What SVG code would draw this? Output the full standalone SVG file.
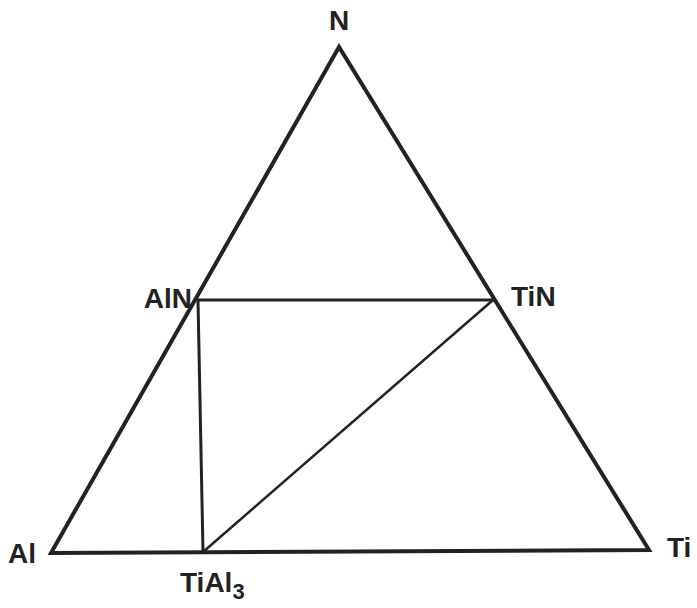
<svg xmlns="http://www.w3.org/2000/svg" width="697" height="608" viewBox="0 0 697 608">
<style>
.lbl{font-family:"Liberation Sans",Arial,sans-serif;font-size:28px;font-weight:bold;fill:#222}
.edge{stroke:#222;fill:none;stroke-linejoin:miter;stroke-linecap:round}
</style>
<rect width="697" height="608" fill="#fff"/>
<g id="connectors">
<polygon class="edge" stroke-width="4" points="339,47 51,553 649,550"/>
<line class="edge" stroke-width="3" x1="198" y1="300" x2="493" y2="300"/>
<line class="edge" stroke-width="3" x1="198" y1="300" x2="203" y2="552"/>
<line class="edge" stroke-width="2.5" x1="203" y1="552" x2="493" y2="300"/>
</g>
<g id="N"><text class="lbl" x="339" y="30" text-anchor="middle">N</text></g>
<g id="AlN"><text class="lbl" x="192" y="308" text-anchor="end">AlN</text></g>
<g id="TiN"><text class="lbl" x="511" y="306">TiN</text></g>
<g id="Al"><text class="lbl" x="8" y="563">Al</text></g>
<g id="Ti"><text class="lbl" x="667" y="557">Ti</text></g>
<g id="TiAl3"><text class="lbl" x="180" y="592">TiAl<tspan font-size="22" dy="7">3</tspan></text></g>
</svg>
